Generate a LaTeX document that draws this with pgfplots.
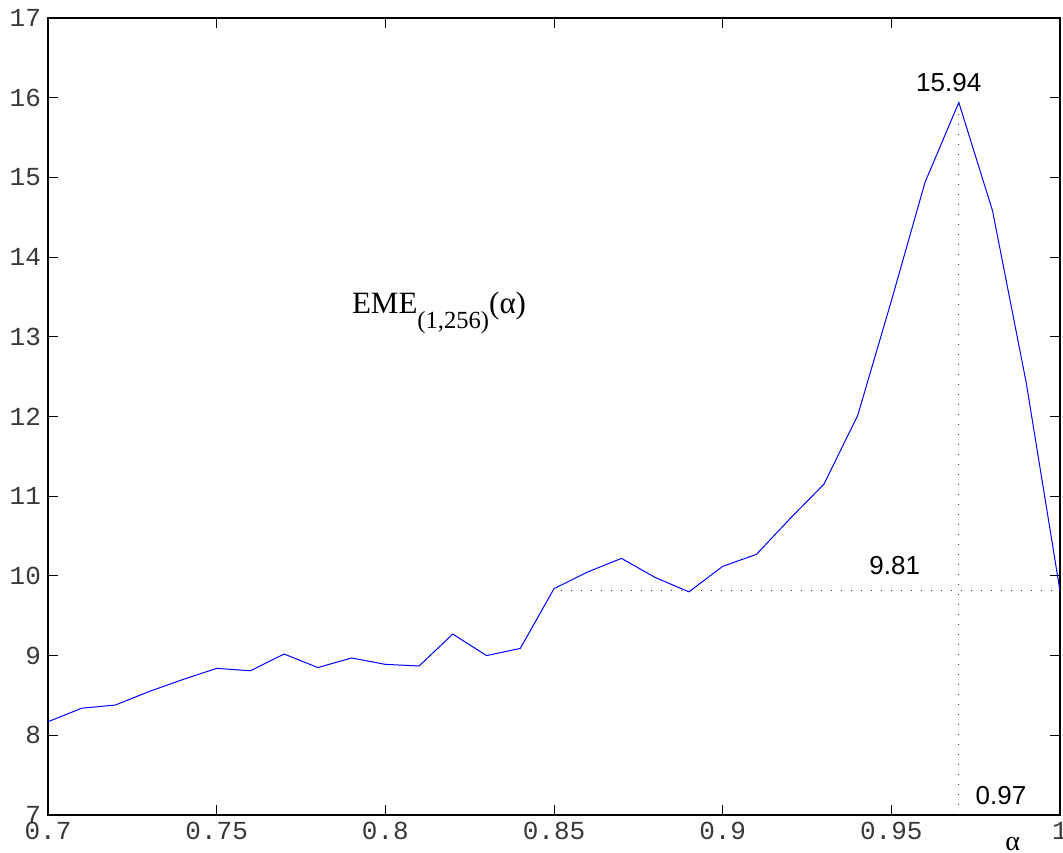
\documentclass[border=0pt]{standalone}
\usepackage{fontspec}
\setmainfont{Liberation Sans}
\newfontfamily\monof{Liberation Mono}
\newfontfamily\serif{Liberation Serif}
\usepackage{pgfplots}
\pgfplotsset{compat=1.18}
\begin{document}
\begin{tikzpicture}
\begin{axis}[name=ax, scale only axis, width=506pt, height=398.5pt,
  xmin=0.7, xmax=1, ymin=7, ymax=17,
  xtick={0.7,0.75,0.8,0.85,0.9,0.95,1},
  xticklabels={0.7,0.75,0.8,0.85,0.9,0.95,1},
  ytick={7,8,9,10,11,12,13,14,15,16,17},
  yticklabels={7,8,9,10,11,12,13,14,15,16,17},
  tick label style={font=\monof\fontsize{13}{13}\selectfont, text=black!78},
  tick align=inside, xtick pos=both, ytick pos=both,
  major tick length=5pt,
  axis line style={line width=0.8pt},
  every tick/.style={black, line width=0.5pt},
  clip=false,
]
\addplot[blue, line width=0.5pt] coordinates {
(0.70,8.17) (0.71,8.34) (0.72,8.38) (0.73,8.55) (0.74,8.70) (0.75,8.84)
(0.76,8.81) (0.77,9.02) (0.78,8.85) (0.79,8.97) (0.80,8.89) (0.81,8.87)
(0.82,9.27) (0.83,9.00) (0.84,9.09) (0.85,9.84) (0.86,10.05) (0.87,10.22)
(0.88,9.98) (0.89,9.80) (0.90,10.12) (0.91,10.27) (0.92,10.72) (0.93,11.15)
(0.94,12.01) (0.95,13.45) (0.96,14.94) (0.97,15.94) (0.98,14.58) (0.99,12.42)
(1.00,9.81)
};
\addplot[black!80, line width=0.5pt, dash pattern=on 0.5pt off 4.5pt] coordinates {(0.852,9.82) (1.0,9.82)};
\addplot[black!80, line width=0.5pt, dash pattern=on 0.5pt off 4.5pt] coordinates {(0.97,7) (0.97,15.94)};
\node[font=\fontsize{13}{13}\selectfont] at (axis cs:0.967,16.19) {15.94};
\node[font=\fontsize{13}{13}\selectfont] at (axis cs:0.951,10.13) {9.81};
\node[font=\fontsize{13}{13}\selectfont] at (axis cs:0.9825,7.25) {0.97};
\node[font=\serif\fontsize{14}{14}\selectfont] at (axis cs:0.986,6.63) {α};
\node[anchor=base west, inner sep=0pt, font=\serif\fontsize{15.5}{15.5}\selectfont] at (axis cs:0.790,13.29) {EME\raisebox{-7.5pt}{\fontsize{12.3}{12.3}\selectfont(1,256)}(α)};
\end{axis}
\pgfresetboundingbox
\path[use as bounding box] ([xshift=-24pt,yshift=-18.5pt]ax.south west) rectangle ([xshift=1.5pt,yshift=9pt]ax.north east);
\end{tikzpicture}
\end{document}
